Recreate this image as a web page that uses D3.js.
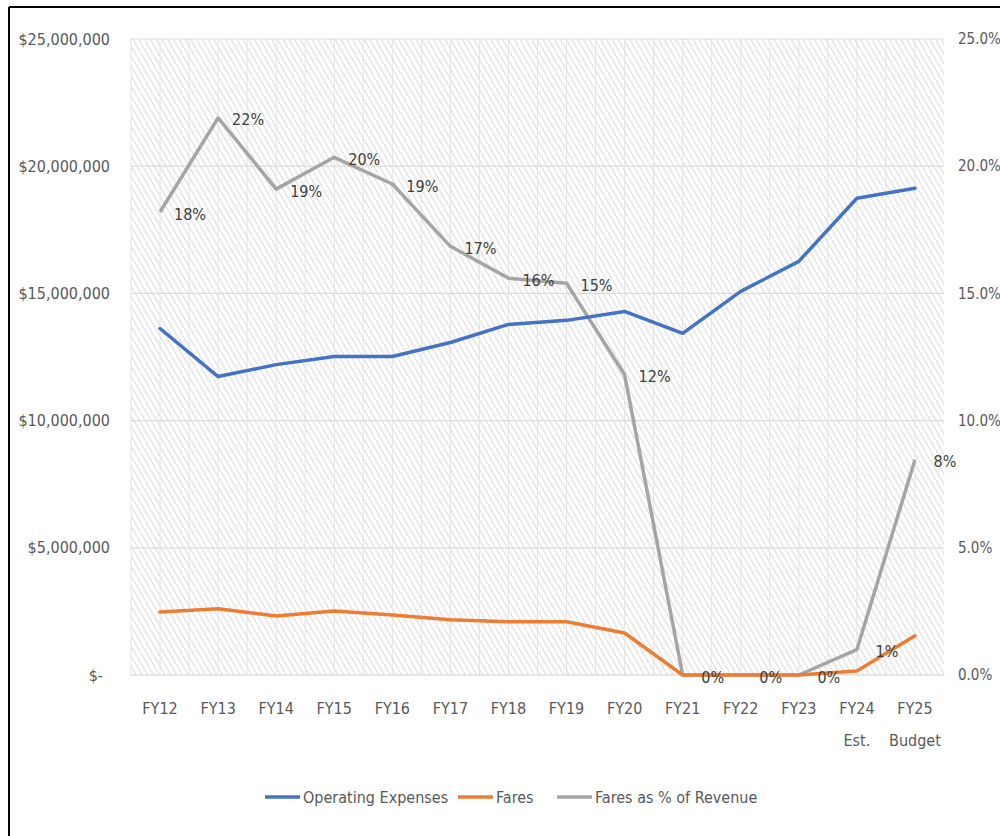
<!DOCTYPE html>
<html><head><meta charset="utf-8">
<script src="https://cdn.jsdelivr.net/npm/d3@7"></script>
<style>body{margin:0;background:#fff}svg{display:block}</style>
</head><body>
<svg id="c" width="1000" height="836"></svg>
<script>
const categories = ["FY12","FY13","FY14","FY15","FY16","FY17","FY18","FY19","FY20","FY21","FY22","FY23","FY24\nEst.","FY25\nBudget"];
const operatingExpenses = [13620000,11730000,12200000,12520000,12520000,13070000,13780000,13940000,14290000,13430000,15080000,16260000,18740000,19130000];
const fares = [2480000,2600000,2320000,2520000,2360000,2170000,2090000,2090000,1650000,0,0,0,160000,1540000];
const faresPct = [0.182,0.219,0.191,0.2035,0.193,0.1685,0.156,0.154,0.118,0,0,0,0.010,0.0846];
const pctLabels = ["18%","22%","19%","20%","19%","17%","16%","15%","12%","0%","0%","0%","1%","8%"];
const leftTicks = [0,5000000,10000000,15000000,20000000,25000000];
const rightTicks = [0,0.05,0.10,0.15,0.20,0.25];
const seriesNames = ["Operating Expenses","Fares","Fares as % of Revenue"];
const colors = ["#4472C4","#ED7D31","#A5A5A5"];

const font = "'DejaVu Sans Condensed','Liberation Sans Narrow','Open Sans',sans-serif";
const txt = "#595959";
const svg = d3.select("#c");
const L = 131, R = 944, T = 39, B = 675;

// border
svg.append("rect").attr("x",0).attr("y",0).attr("width",1000).attr("height",836).attr("fill","#fff");
svg.append("line").attr("x1",9).attr("x2",9).attr("y1",7).attr("y2",836).attr("stroke","#000").attr("stroke-width",2);
svg.append("line").attr("x1",9).attr("x2",1000).attr("y1",7).attr("y2",7).attr("stroke","#000").attr("stroke-width",2);

const x = d3.scaleBand().domain(categories).range([L,R]);
const xc = c => x(c) + x.bandwidth()/2;
const yL = d3.scaleLinear().domain([0,25000000]).range([B,T]);
const yR = d3.scaleLinear().domain([0,0.25]).range([B,T]);

// hatch pattern
const defs = svg.append("defs");
const pat = defs.append("pattern").attr("id","hatch").attr("patternUnits","userSpaceOnUse")
  .attr("width",5).attr("height",5).attr("patternTransform","rotate(-30)");
pat.append("rect").attr("width",5).attr("height",5).attr("fill","#ffffff");
pat.append("line").attr("x1",0).attr("x2",0).attr("y1",0).attr("y2",5).attr("stroke","#d3d3d3").attr("stroke-width",1.6);
svg.append("rect").attr("x",L).attr("y",T).attr("width",R-L).attr("height",B-T).attr("fill","url(#hatch)");

// vertical faint lines
categories.forEach(c=>{
  [x(c), xc(c)].forEach(v=>{
    svg.append("line").attr("x1",v).attr("x2",v).attr("y1",T).attr("y2",B).attr("stroke","#e4e4e4").attr("stroke-width",1);
  });
});

// horizontal gridlines
svg.append("g").selectAll("line").data(leftTicks).join("line")
  .attr("x1",L).attr("x2",R).attr("y1",d=>yL(d)).attr("y2",d=>yL(d))
  .attr("stroke",d=>d===0?"#cfcfcf":"#dcdcdc").attr("stroke-width",1.2);

// left axis labels
const fmtL = d => d===0 ? "$-" : "$" + d3.format(",")(d);
svg.append("g").selectAll("text").data(leftTicks).join("text")
  .attr("x",d=>d===0?103:110).attr("y",d=>yL(d)).attr("dy","0.35em")
  .attr("text-anchor","end").attr("font-family",font).attr("font-size",16).attr("fill",txt)
  .text(fmtL);

// right axis labels
svg.append("g").selectAll("text").data(rightTicks).join("text")
  .attr("x",958).attr("y",d=>yR(d)).attr("dy","0.35em")
  .attr("text-anchor","start").attr("font-family",font).attr("font-size",15).attr("fill",txt)
  .text(d=>d3.format(".1%")(d));

// x labels
const xl = svg.append("g").selectAll("text").data(categories).join("text")
  .attr("x",d=>xc(d)).attr("y",714).attr("text-anchor","middle")
  .attr("font-family",font).attr("font-size",16).attr("fill",txt);
xl.each(function(d){
  const parts = d.split("\n");
  parts.forEach((p,i)=>{
    d3.select(this).append("tspan").attr("x",xc(d)).attr("dy", i===0?0:32).text(p);
  });
});

// lines
const lineL = d3.line().x((d,i)=>xc(categories[i])).y(d=>yL(d));
const lineR = d3.line().x((d,i)=>xc(categories[i])).y(d=>yR(d));
svg.append("path").datum(faresPct).attr("d",lineR).attr("fill","none").attr("stroke",colors[2]).attr("stroke-width",3.5).attr("stroke-linejoin","round");
svg.append("path").datum(operatingExpenses).attr("d",lineL).attr("fill","none").attr("stroke",colors[0]).attr("stroke-width",3.5).attr("stroke-linejoin","round").attr("stroke-linecap","round");
svg.append("path").datum(fares).attr("d",lineL).attr("fill","none").attr("stroke",colors[1]).attr("stroke-width",3.5).attr("stroke-linejoin","round").attr("stroke-linecap","round");

// pct labels
svg.append("g").selectAll("text").data(faresPct).join("text")
  .attr("x",(d,i)=>xc(categories[i])+30).attr("y",d=>yR(d)+2).attr("dy","0.35em")
  .attr("text-anchor","middle").attr("font-family",font).attr("font-size",16).attr("fill","#404040")
  .text((d,i)=>pctLabels[i]);

// legend
const legX = [265,458,557];
const lg = svg.append("g");
seriesNames.forEach((n,i)=>{
  lg.append("line").attr("x1",legX[i]).attr("x2",legX[i]+35).attr("y1",797).attr("y2",797).attr("stroke",colors[i]).attr("stroke-width",3.5);
  lg.append("text").attr("x",legX[i]+38).attr("y",797).attr("dy","0.35em").attr("font-family",font).attr("font-size",16).attr("fill",txt).text(n);
});
</script>
</body></html>
